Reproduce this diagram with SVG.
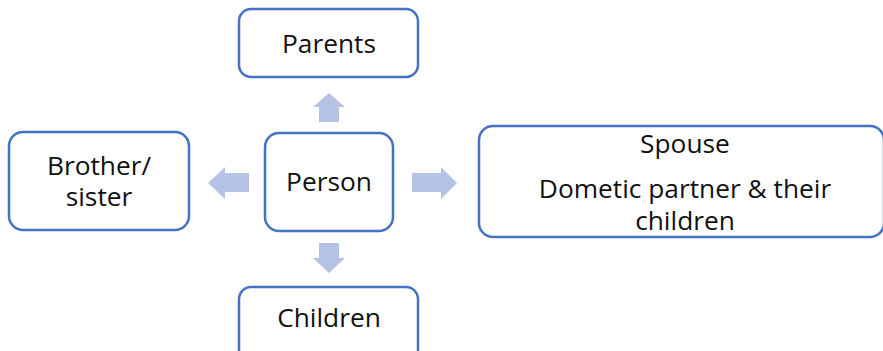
<svg xmlns="http://www.w3.org/2000/svg" width="883" height="351" viewBox="0 0 883 351">
  <style>
    .box { fill: #ffffff; stroke: #4472c4; stroke-width: 2.5; }
    .arrow { fill: #b4c2e4; stroke: none; }
    .label { font-family: "Open Sans", "Liberation Sans", sans-serif; font-size: 26.3px; fill: #111111; text-anchor: middle; }
  </style>
  <rect width="883" height="351" fill="#ffffff"/>

  <!-- block arrows pointing out from the central node -->
  <g id="connectors">
    <polygon class="arrow" points="319,122 319,107 313,107 329,93 345,107 339,107 339,122"/>
    <polygon class="arrow" points="319,243 339,243 339,258 345,258 329,273 313,258 319,258"/>
    <polygon class="arrow" points="249,173 225,173 225,167 208,183 225,199 225,192 249,192"/>
    <polygon class="arrow" points="412,173 441,173 441,167 457,183 441,199 441,192 412,192"/>
  </g>

  <g id="parents">
    <rect class="box" x="239" y="9" width="179" height="68" rx="12"/>
    <text class="label" x="329" y="52.5">Parents</text>
  </g>

  <g id="person">
    <rect class="box" x="265" y="133" width="128" height="98" rx="14"/>
    <text class="label" x="329" y="191">Person</text>
  </g>

  <g id="sibling">
    <rect class="box" x="9" y="132" width="180" height="98" rx="14"/>
    <text class="label" x="99" y="175">Brother/</text>
    <text class="label" x="99" y="206">sister</text>
  </g>

  <g id="spouse">
    <rect class="box" x="479" y="126" width="405" height="111" rx="14"/>
    <text class="label" x="685" y="153">Spouse</text>
    <text class="label" x="685" y="197.5">Dometic partner &amp; their</text>
    <text class="label" x="685" y="229.5">children</text>
  </g>

  <g id="children">
    <rect class="box" x="239" y="287" width="179" height="75" rx="12"/>
    <text class="label" x="329" y="327">Children</text>
  </g>
</svg>
